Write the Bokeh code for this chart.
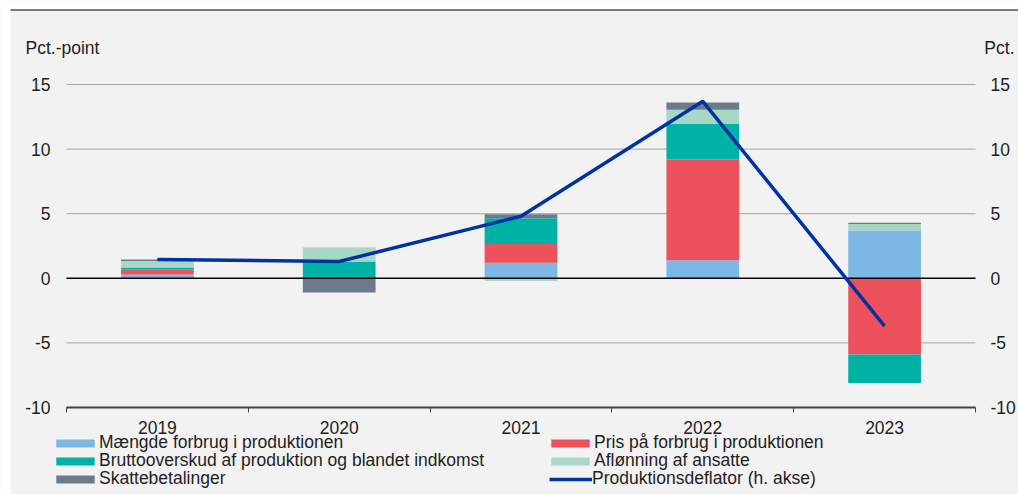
from bokeh.plotting import figure
from bokeh.models import (Range1d, LinearAxis, FixedTicker, Legend, LegendItem,
                          Label, ColumnDataSource, BoxAnnotation)
from bokeh.embed import file_html
from bokeh.resources import INLINE

categories = ["2019", "2020", "2021", "2022", "2023"]
series_names = [
    "Mængde forbrug i produktionen",
    "Pris på forbrug i produktionen",
    "Bruttooverskud af produktion og blandet indkomst",
    "Aflønning af ansatte",
    "Skattebetalinger",
]
maengde = [0.3, 0.0, 1.2, 1.4, 3.7]
pris = [0.4, 0.0, 1.45, 7.8, -5.9]
brutto = [0.13, 1.3, 2.0, 2.75, -2.2]
afloenning = [0.5, 1.1, -0.2, 1.1, 0.5]
skat = [0.12, -1.1, 0.3, 0.55, 0.1]
deflator_name = "Produktionsdeflator (h. akse)"
deflator = [1.45, 1.3, 4.8, 13.7, -3.7]
y_ticks = [-10, -5, 0, 5, 10, 15]
left_unit = "Pct.-point"
right_unit = "Pct."

colors = ["#7DB8E5", "#EC515C", "#00B2A5", "#A8D8C5", "#6B7B8C"]
line_color = "#0033A0"
bg = "#F2F2F2"
txt = "#1E1E1E"
font = "Liberation Sans"
fs = "17.5px"

# ---- layout geometry (pixels) ----
W, H = 1018, 494
plot_left, plot_right = 66, 975      # canvas x of the category axis ends
plot_top, plot_bottom = 84, 407      # canvas y of top / bottom tick
ncat = len(categories)
ymin, ymax = y_ticks[0], y_ticks[-1]
xs = ncat / (plot_right - plot_left)
ys = (ymax - ymin) / (plot_bottom - plot_top)
x_start = -plot_left * xs
x_end = ncat + (W - plot_right) * xs
y_end = ymax + plot_top * ys
y_start = ymin - (H - plot_bottom) * ys

series = [maengde, pris, brutto, afloenning, skat]
xc = [i + 0.5 for i in range(ncat)]

p = figure(width=W, height=H, output_backend="svg", toolbar_location=None,
           x_range=Range1d(x_start, x_end), y_range=Range1d(y_start, y_end),
           min_border=0, background_fill_color=bg, border_fill_color=bg,
           outline_line_color=None)
p.extra_y_ranges = {"right": Range1d(y_start, y_end)}
p.xgrid.visible = False
p.ygrid.visible = False

# white page strips (left and top) and top rule
p.add_layout(BoxAnnotation(right=x_start + 10 * xs, fill_color="white", fill_alpha=1,
                           line_color=None, level="underlay"))
p.add_layout(BoxAnnotation(bottom=y_end - 9 * ys, fill_color="white", fill_alpha=1,
                           line_color=None, level="underlay"))
p.segment(x0=[x_start + 10 * xs], x1=[x_end], y0=[y_end - 9.5 * ys], y1=[y_end - 9.5 * ys],
          line_color="black", line_width=1)

# horizontal gridlines limited to plot area
grid_y = [t for t in y_ticks if t not in (0, ymin)]
p.segment(x0=[0] * len(grid_y), x1=[ncat] * len(grid_y), y0=grid_y, y1=grid_y,
          line_color="#A6A6A6", line_width=1)

# stacked bars (positive and negative stacked separately)
pos_base = [0.0] * ncat
neg_base = [0.0] * ncat
bar_renderers = []
for vals, col in zip(series, colors):
    bottoms, tops = [], []
    for i, v in enumerate(vals):
        if v >= 0:
            bottoms.append(pos_base[i]); tops.append(pos_base[i] + v); pos_base[i] += v
        else:
            tops.append(neg_base[i]); bottoms.append(neg_base[i] + v); neg_base[i] += v
    src = ColumnDataSource(dict(x=xc, bottom=bottoms, top=tops))
    bar_renderers.append(p.vbar(x="x", bottom="bottom", top="top", width=0.4, source=src,
                                fill_color=col, line_color=None))

# zero line
p.segment(x0=[0], x1=[ncat], y0=[0], y1=[0], line_color="black", line_width=1.5)

line_r = p.line(xc, deflator, line_color=line_color, line_width=3.5, y_range_name="right")

# axes
xa = p.xaxis[0]
xa.fixed_location = ymin
xa.bounds = (0, ncat)
xa.ticker = FixedTicker(ticks=xc, minor_ticks=list(range(ncat + 1)))
xa.major_label_overrides = {x: c for x, c in zip(xc, categories)}
xa.major_tick_line_color = None
xa.minor_tick_line_color = "#404040"
xa.minor_tick_out = 5
xa.minor_tick_in = 0
xa.axis_line_color = "#404040"
xa.axis_line_width = 2
xa.major_label_standoff = 7
xa.major_label_text_font = font
xa.major_label_text_font_size = fs
xa.major_label_text_color = txt

ytick_labels = {t: str(t) for t in y_ticks}

ya = p.yaxis[0]
ya.fixed_location = 0
ya.ticker = FixedTicker(ticks=y_ticks)
ya.major_label_overrides = ytick_labels
ya.axis_line_color = None
ya.major_tick_line_color = None
ya.minor_tick_line_color = None
ya.major_tick_out = 0
ya.major_label_standoff = 16
ya.major_label_text_font = font
ya.major_label_text_font_size = fs
ya.major_label_text_color = txt

ra = LinearAxis(y_range_name="right", ticker=FixedTicker(ticks=y_ticks), fixed_location=ncat)
ra.major_label_overrides = ytick_labels
ra.axis_line_color = None
ra.major_tick_line_color = None
ra.minor_tick_line_color = None
ra.major_tick_out = 0
ra.major_label_standoff = 15
ra.major_label_text_font = font
ra.major_label_text_font_size = fs
ra.major_label_text_color = txt
p.add_layout(ra, "right")

# unit labels
unit_y = ymax + 37 * ys
p.add_layout(Label(x=-41 * xs, y=unit_y, text=left_unit,
                   text_font=font, text_font_size=fs, text_color=txt,
                   text_align="left", text_baseline="middle"))
p.add_layout(Label(x=ncat + 39 * xs, y=unit_y, text=right_unit,
                   text_font=font, text_font_size=fs, text_color=txt,
                   text_align="right", text_baseline="middle"))

# legend: one small legend per entry, two columns x three rows
entries = [
    (series_names[0], bar_renderers[0], 0, 0),
    (series_names[1], bar_renderers[1], 1, 0),
    (series_names[2], bar_renderers[2], 0, 1),
    (series_names[3], bar_renderers[3], 1, 1),
    (series_names[4], bar_renderers[4], 0, 2),
    (deflator_name, line_r, 1, 2),
]
col_x = [51, 546]
row_y = [41, 23, 5]
for label, rend, c, r in entries:
    is_line = rend is line_r
    leg = Legend(items=[LegendItem(label=label, renderers=[rend])],
                 location=(col_x[c] + (3 if is_line else 0), row_y[r]),
                 padding=0, margin=0, spacing=0,
                 glyph_width=43 if is_line else 48, glyph_height=10, label_height=20,
                 label_standoff=0,
                 label_text_font=font, label_text_font_size=fs, label_text_color=txt,
                 border_line_color=None, background_fill_alpha=0)
    p.add_layout(leg)

open("out.html", "w").write(file_html(p, INLINE))
